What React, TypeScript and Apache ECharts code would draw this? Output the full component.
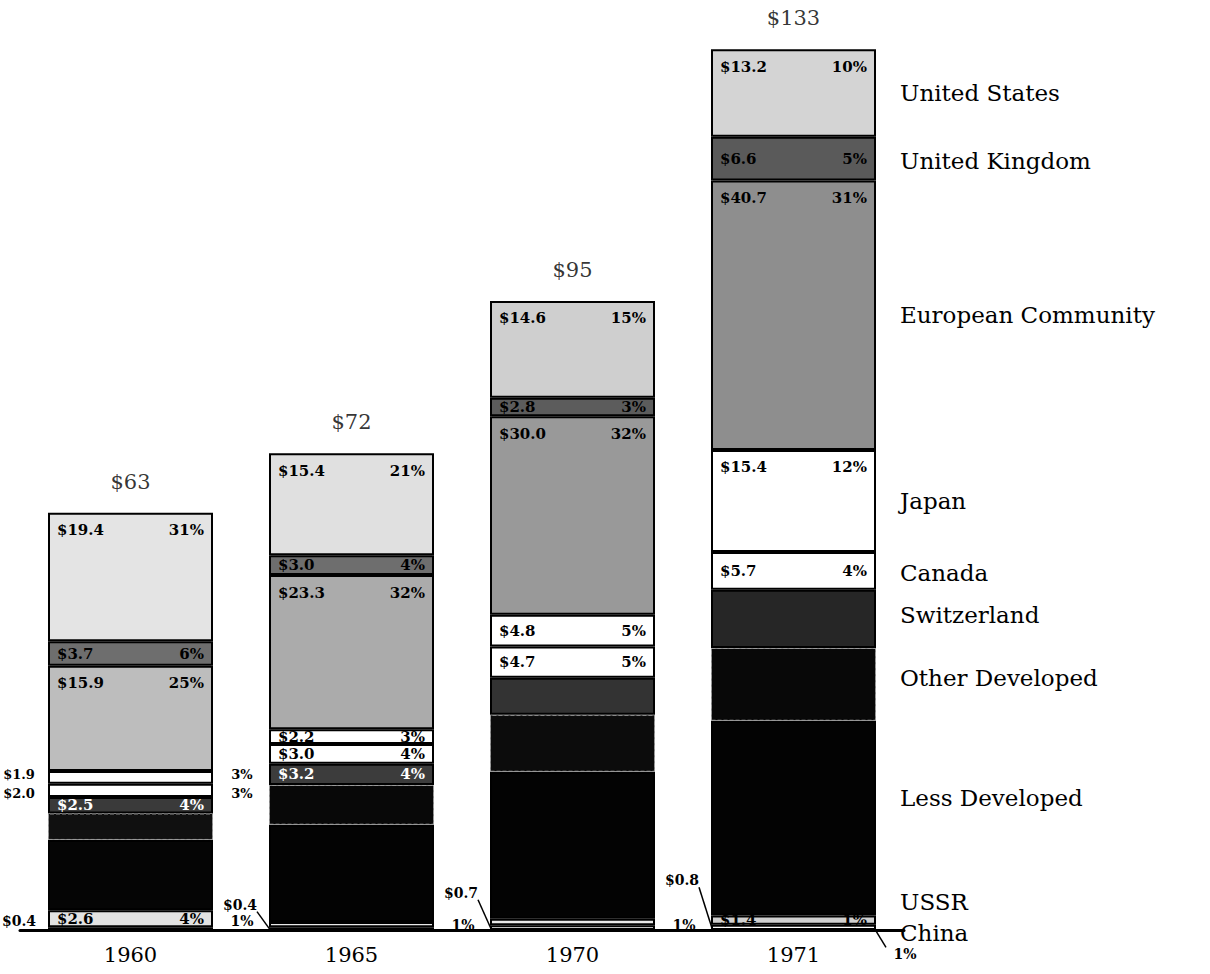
import React, { useEffect, useRef } from "react";
import * as echarts from "echarts";

// ---- data (billions of dollars) ----
const years = ["1960", "1965", "1970", "1971"];
const totals = [63, 72, 95, 133];

const china = [0.4, 0.4, 0.7, 0.8];
const ussr = [2.6, 0.8, 1.0, 1.4];
const lessDeveloped = [10.6, 14.7, 22.2, 29.4];
const otherDeveloped = [4.0, 6.0, 8.6, 11.0];
const switzerland = [2.5, 3.2, 5.6, 8.8];
const canada = [2.0, 3.0, 4.7, 5.7];
const japan = [1.9, 2.2, 4.8, 15.4];
const europeanCommunity = [15.9, 23.3, 30.0, 40.7];
const unitedKingdom = [3.7, 3.0, 2.8, 6.6];
const unitedStates = [19.4, 15.4, 14.6, 13.2];

// ---- styling ----
const FONT = "'DejaVu Serif', 'Liberation Serif', serif";
const BAR_W = 165;

type Mode = "top" | "mid" | "out" | "none";
type Def = {
  name: string;
  data: number[];
  colors: string[];
  text: string;
  modes: Mode[];
  dy: number;
  outShift: number;
  border?: any;
};
const seriesDefs: Def[] = [
  { name: "China", data: china, colors: ["#fff", "#fff", "#fff", "#fff"], text: "#000", modes: ["out", "out", "out", "out"], dy: 6, outShift: 0 },
  { name: "USSR", data: ussr, colors: ["#e2e2e2", "#e8e8e8", "#e8e8e8", "#d0d0d0"], text: "#000", modes: ["mid", "none", "none", "mid"], dy: -18, outShift: 0 },
  { name: "Less Developed", data: lessDeveloped, colors: ["#050505", "#030303", "#030303", "#030303"], text: "#fff", modes: ["none", "none", "none", "none"], dy: -20, outShift: 0 },
  {
    name: "Other Developed", data: otherDeveloped, colors: ["#101010", "#080808", "#0c0c0c", "#080808"], text: "#fff",
    modes: ["none", "none", "none", "none"], dy: -6, outShift: 0,
    border: { borderColor: "#9a9a9a", borderWidth: 1, borderType: "dashed" },
  },
  { name: "Switzerland", data: switzerland, colors: ["#3a3a3a", "#3c3c3c", "#333333", "#262626"], text: "#fff", modes: ["mid", "mid", "none", "none"], dy: -4, outShift: 0 },
  { name: "Canada", data: canada, colors: ["#fff", "#fff", "#fff", "#fff"], text: "#000", modes: ["out", "mid", "mid", "mid"], dy: 2, outShift: 3 },
  { name: "Japan", data: japan, colors: ["#fff", "#fff", "#fff", "#fff"], text: "#000", modes: ["out", "mid", "mid", "top"], dy: 0, outShift: -3 },
  { name: "European Community", data: europeanCommunity, colors: ["#bdbdbd", "#ababab", "#999999", "#8e8e8e"], text: "#000", modes: ["top", "top", "top", "top"], dy: 0, outShift: 0 },
  { name: "United Kingdom", data: unitedKingdom, colors: ["#6e6e6e", "#6e6e6e", "#5c5c5c", "#5a5a5a"], text: "#000", modes: ["mid", "mid", "mid", "mid"], dy: 2, outShift: 0 },
  { name: "United States", data: unitedStates, colors: ["#e4e4e4", "#e0e0e0", "#cfcfcf", "#d4d4d4"], text: "#000", modes: ["top", "top", "top", "top"], dy: 0, outShift: 0 },
];

// vertical spread of the outside labels of the thin bottom segment, per year
const outGap = [10, 34, 46, 88];
const outOffset = [-8, -14, -19, -10];

function makeLabel(mode: Mode, v: number, total: number, color: string, isChina: boolean, i: number, shift: number) {
  if (mode === "none") return { show: false };
  const val = "$" + v.toFixed(1);
  const pct = Math.round((v / total) * 100) + "%";
  if (mode === "out") {
    const fs = isChina ? 14 : 13;
    return {
      show: true,
      position: "inside",
      offset: [0, isChina ? outOffset[i] : shift],
      formatter: `{l|${val}}{g|}{r|${pct}}`,
      rich: {
        l: { width: 50, align: "right", verticalAlign: "top", fontSize: fs, fontWeight: "bold", fontFamily: FONT, color: "#000" },
        g: { width: BAR_W + 8, height: isChina ? outGap[i] : 8 },
        r: { width: 50, align: "left", verticalAlign: "bottom", fontSize: fs, fontWeight: "bold", fontFamily: FONT, color: "#000" },
      },
    };
  }
  return {
    show: true,
    position: mode === "top" ? "insideTop" : "inside",
    distance: 10,
    formatter: `{l|${val}}{r|${pct}}`,
    rich: {
      l: { width: 95, align: "left", fontSize: 15, fontWeight: "bold", fontFamily: FONT, color },
      r: { width: 52, align: "right", fontSize: 15, fontWeight: "bold", fontFamily: FONT, color },
    },
  };
}

export default function App() {
  const ref = useRef<HTMLDivElement>(null);
  useEffect(() => {
    document.body.style.margin = "0";
    const chart = echarts.init(ref.current!, null, { renderer: "svg" });
    chart.setOption({
      animation: false,
      backgroundColor: "#ffffff",
      grid: { left: 20, right: 306, top: 3, bottom: 44 },
      xAxis: {
        type: "category",
        data: years,
        axisLine: { lineStyle: { color: "#000", width: 3 } },
        axisTick: { show: false },
        axisLabel: { fontSize: 21, fontFamily: FONT, color: "#000", margin: 14 },
      },
      yAxis: { type: "value", min: 0, max: 140, show: false, splitLine: { show: false } },
      series: [
        ...seriesDefs.map((d) => ({
          name: d.name,
          type: "bar",
          stack: "total",
          barWidth: BAR_W,
          itemStyle: { borderColor: "#000", borderWidth: 2, ...(d.border || {}) },
          data: d.data.map((v, i) => ({
            value: v,
            itemStyle: { color: d.colors[i] },
            label: makeLabel(d.modes[i], v, totals[i], d.text, d.name === "China", i, d.outShift),
          })),
        })),
        {
          name: "Total",
          type: "scatter",
          data: totals,
          symbolSize: 1,
          itemStyle: { color: "rgba(0,0,0,0)" },
          label: {
            show: true,
            position: "top",
            distance: 20,
            formatter: (p: any) => "$" + p.value,
            fontSize: 21,
            fontFamily: FONT,
            color: "#000",
          },
          z: 10,
        },
      ],
    });

    const graphics: any[] = [];
    // country names beside the last bar, placed through the chart's own scales
    const last = years.length - 1;
    let cum = 0;
    seriesDefs.forEach((d) => {
      const v = d.data[last];
      const mid = cum + v / 2;
      cum += v;
      const [cx, cy] = chart.convertToPixel({ xAxisIndex: 0, yAxisIndex: 0 }, [years[last], mid]) as number[];
      graphics.push({
        type: "text",
        x: cx + BAR_W / 2 + 24,
        y: cy + d.dy,
        style: {
          text: d.name,
          fontSize: 23,
          fontFamily: FONT,
          fill: "#000",
          verticalAlign: "middle",
          align: "left",
        },
      });
    });
    // small leader lines from the raised China value labels to the bar foot
    years.forEach((y, i) => {
      if (i === 0) return;
      const [cx, cy] = chart.convertToPixel({ xAxisIndex: 0, yAxisIndex: 0 }, [y, china[i] / 2]) as number[];
      const left = cx - BAR_W / 2;
      const labelY = cy + outOffset[i] - outGap[i] / 2 + 14;
      graphics.push({
        type: "line",
        shape: { x1: left - 12, y1: labelY, x2: left + 1, y2: cy + 1 },
        style: { stroke: "#000", lineWidth: 1.5 },
        z: 20,
      });
      if (i === last) {
        graphics.push({
          type: "line",
          shape: { x1: cx + BAR_W / 2 - 1, y1: cy + 2, x2: cx + BAR_W / 2 + 10, y2: cy + outOffset[i] + outGap[i] / 2 - 14 },
          style: { stroke: "#000", lineWidth: 1.5 },
          z: 20,
        });
      }
    });
    chart.setOption({ graphic: graphics });

    return () => chart.dispose();
  }, []);
  return <div ref={ref} style={{ width: 1210, height: 974 }} />;
}
